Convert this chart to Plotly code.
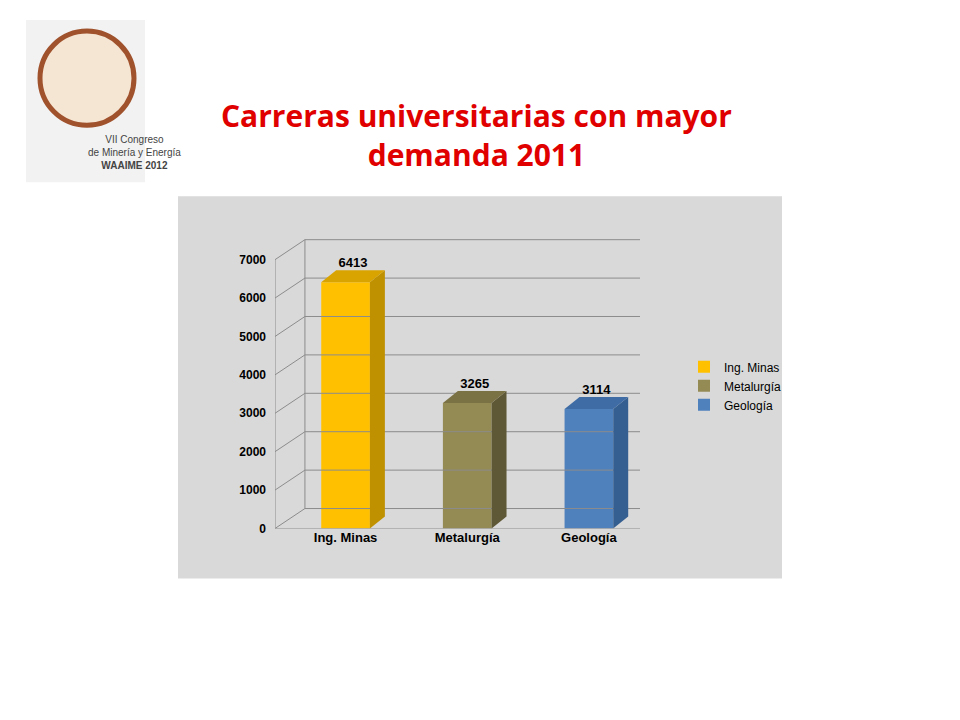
import plotly.graph_objects as go

categories = ["Ing. Minas", "Metalurgía", "Geología"]
values = [6413, 3265, 3114]
front_colors = ["#FFC000", "#948A54", "#4F81BD"]
side_colors = ["#BF9000", "#5F5836", "#365F91"]
top_colors = ["#D9A300", "#7A7145", "#3F6CA5"]
yticks = [0, 1000, 2000, 3000, 4000, 5000, 6000, 7000]

W, DX, DY = 0.2, 0.123, 312
WX, WY = 0.246, 520
X0, X1 = -0.58, 2.42
OFF = 8


def px(x):
    return (x - OFF) / 960


def py(y):
    return 1 - (y / 0.9895 - OFF) / 720


fig = go.Figure()
for t in yticks:
    fig.add_trace(go.Scatter(x=[X0, X0 + WX, X1 + WX], y=[t, t + WY, t + WY], mode="lines",
                             line=dict(color="#8c8c8c", width=1), showlegend=False, hoverinfo="skip"))
fig.add_trace(go.Scatter(x=[X0, X0, X1, X1 + WX], y=[yticks[-1], 0, 0, WY], mode="lines",
                         line=dict(color="#8c8c8c", width=1), showlegend=False, hoverinfo="skip"))
fig.add_trace(go.Scatter(x=[X0 + WX, X0 + WX], y=[WY, yticks[-1] + WY], mode="lines",
                         line=dict(color="#8c8c8c", width=1), showlegend=False, hoverinfo="skip"))

for i, (c, v) in enumerate(zip(categories, values)):
    cx = i
    fig.add_trace(go.Scatter(x=[cx + W, cx + W + DX, cx + W + DX, cx + W, cx + W],
                             y=[0, DY, v + DY, v, 0], fill="toself", fillcolor=side_colors[i],
                             line=dict(width=0), mode="lines", showlegend=False, hoverinfo="skip"))
    fig.add_trace(go.Scatter(x=[cx - W, cx - W + DX, cx + W + DX, cx + W, cx - W],
                             y=[v, v + DY, v + DY, v, v], fill="toself", fillcolor=top_colors[i],
                             line=dict(width=0), mode="lines", showlegend=False, hoverinfo="skip"))
    fig.add_trace(go.Bar(x=[cx], y=[v], width=2 * W, marker=dict(color=front_colors[i], line=dict(width=0)),
                         name=c, showlegend=True))
    fig.add_trace(go.Scatter(x=[cx + DX / 2], y=[v + DY], mode="text", text=["<b>%d</b>" % v],
                             textposition="top center", textfont=dict(size=13, color="#000", family="Liberation Sans"),
                             showlegend=False, hoverinfo="skip"))

fig.update_layout(
    width=960, height=720, margin=dict(l=0, r=0, t=0, b=0),
    paper_bgcolor="white", plot_bgcolor="rgba(0,0,0,0)",
    font=dict(family="Liberation Sans", size=12, color="#000"),
    xaxis=dict(domain=[px(275), px(640)], range=[X0, X1], tickvals=[0, 1, 2],
               ticktext=["<b>%s</b>" % c for c in categories], showgrid=False, zeroline=False,
               showline=False, ticks="", tickfont=dict(size=13)),
    yaxis=dict(domain=[py(528), py(221)], range=[0, 8000], tickvals=yticks,
               ticktext=["<b>%d</b>" % t for t in yticks], showgrid=False,
               zeroline=False, tickfont=dict(size=12), ticklabelstandoff=8),
    legend=dict(x=px(684), y=py(352), xanchor="left", yanchor="top", bgcolor="rgba(0,0,0,0)",
                font=dict(size=12), itemwidth=30, tracegroupgap=8),
    shapes=[
        dict(type="rect", xref="paper", yref="paper", x0=px(178), x1=px(782), y0=py(578),
             y1=py(196), fillcolor="#D9D9D9", line=dict(width=0), layer="below"),
        dict(type="rect", xref="paper", yref="paper", x0=px(26), x1=px(145), y0=py(182),
             y1=py(20), fillcolor="#F2F2F2", line=dict(width=0), layer="below"),
        dict(type="circle", xref="paper", yref="paper", x0=px(40), x1=px(134), y0=py(125),
             y1=py(31), fillcolor="#F5E6D3", line=dict(color="#A0522D", width=5), layer="below"),
    ],
    annotations=[
        dict(text="<b>Carreras universitarias con mayor<br>demanda 2011</b>", x=px(476), y=py(135),
             xref="paper", yref="paper", yanchor="middle", showarrow=False,
             font=dict(size=30, color="#E00000", family="Open Sans")),
        dict(text="VII Congreso<br>de Minería y Energía<br><b>WAAIME 2012</b>", x=px(86), y=py(152),
             xref="paper", yref="paper", yanchor="middle", showarrow=False, font=dict(size=10, color="#444")),
    ],
)
fig.write_html("out.html")
